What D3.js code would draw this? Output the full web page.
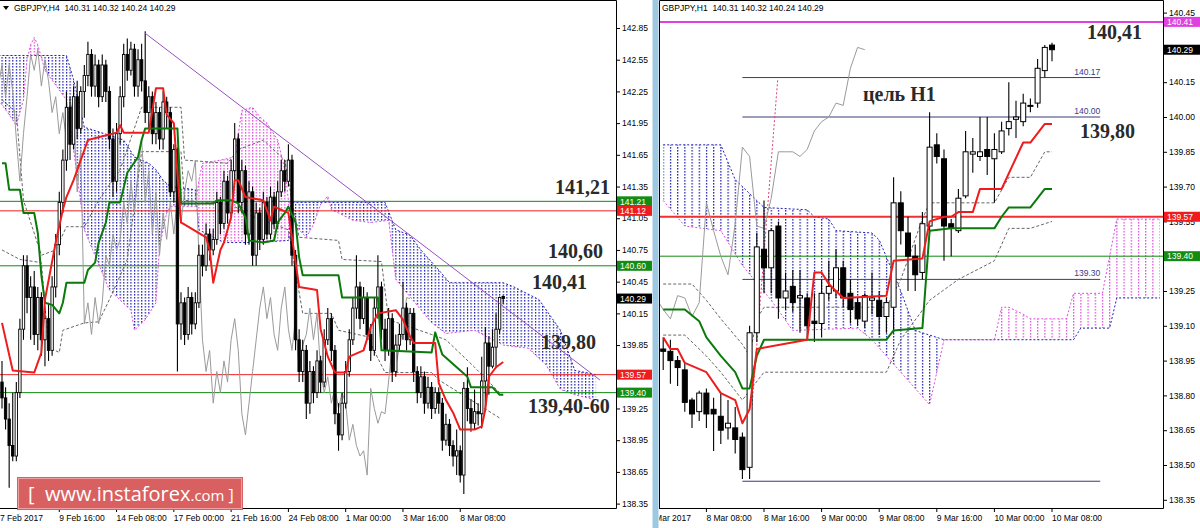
<!DOCTYPE html>
<html><head><meta charset="utf-8">
<script src="https://cdnjs.cloudflare.com/ajax/libs/d3/7.8.5/d3.min.js"></script>
<style>body{margin:0;background:#fff;}svg{display:block;}</style>
</head><body>
<svg id="c" width="1200" height="528"></svg>
<script>
// ================= DATA : LEFT PANEL (GBPJPY H4) =================
const leftTitle = "GBPJPY,H4  140.31 140.32 140.24 140.29";
// [open, high, low, close] per H4 bar (bar 0 = 7 Feb 2017)
const leftOHLC = [
[139.50,139.70,139.25,139.35],[139.35,139.45,139.05,139.15],[139.15,139.30,138.50,138.90],[138.90,139.40,138.75,138.80],
[138.80,139.50,138.75,139.40],[139.40,140.10,139.35,140.00],[140.00,140.70,139.90,140.60],[140.60,140.70,140.15,140.30],
[140.30,140.50,139.90,140.40],[140.40,140.55,139.85,139.95],[139.95,140.40,139.80,140.30],[140.30,140.35,139.75,139.90],
[139.90,140.20,139.65,140.10],[140.10,140.25,139.70,139.80],[139.80,140.50,139.75,140.40],[140.40,140.90,140.30,140.80],
[140.80,141.30,140.70,141.20],[141.20,141.70,141.10,141.60],[141.60,142.25,141.50,142.10],[142.10,142.20,141.60,141.75],
[141.75,142.30,141.70,142.20],[142.20,142.35,141.80,141.90],[141.90,142.30,141.85,142.25],[142.25,142.50,142.00,142.40],
[142.40,142.72,142.30,142.60],[142.60,142.65,142.20,142.30],[142.30,142.60,142.20,142.50],[142.50,142.55,142.10,142.20],
[142.20,142.60,142.15,142.50],[142.50,142.55,142.15,142.25],[142.25,142.30,141.70,141.80],[141.80,141.90,141.25,141.40],
[141.40,141.95,141.30,141.85],[141.85,142.30,141.75,142.20],[142.20,142.70,142.10,142.60],[142.60,142.75,142.35,142.45],
[142.45,142.72,142.40,142.65],[142.65,142.70,142.20,142.30],[142.30,142.65,142.20,142.55],[142.55,142.70,142.25,142.35],
[142.35,142.82,141.95,142.05],[142.05,142.30,141.90,142.20],[142.20,142.25,141.75,141.85],[141.85,142.15,141.75,142.05],
[142.05,142.10,141.70,141.80],[141.80,142.25,141.70,142.15],[142.15,142.20,141.90,142.05],[142.05,142.10,141.25,141.30],
[141.30,141.75,141.20,141.70],[141.70,141.72,139.60,140.05],[140.05,140.35,139.90,140.25],[140.25,140.30,139.85,139.95],
[139.95,140.40,139.90,140.30],[140.30,140.35,139.95,140.05],[140.05,140.35,140.00,140.25],[140.25,140.80,140.20,140.70],
[140.70,140.80,140.50,140.60],[140.60,141.00,140.55,140.90],[140.90,140.95,140.65,140.75],[140.75,140.95,140.70,140.85],
[140.85,141.30,140.80,141.20],[141.20,141.25,140.90,141.00],[141.00,141.50,140.95,141.40],[141.40,141.45,141.00,141.10],
[141.10,141.60,141.05,141.50],[141.50,141.95,141.40,141.80],[141.80,141.85,141.10,141.20],[141.20,141.60,141.10,141.50],
[141.50,141.55,140.80,140.90],[140.90,141.40,140.80,141.30],[141.30,141.35,140.60,140.70],[140.70,141.20,140.60,141.10],
[141.10,141.15,140.75,140.85],[140.85,141.30,140.80,141.20],[141.20,141.25,140.85,140.90],[140.90,141.35,140.85,141.25],
[141.25,141.30,140.95,141.00],[141.00,141.40,140.95,141.30],[141.30,141.60,141.25,141.50],[141.50,141.60,141.30,141.40],
[141.40,141.75,141.35,141.60],[141.60,141.65,140.60,140.70],[140.70,140.75,139.80,139.90],[139.90,140.00,139.50,139.60],
[139.60,139.90,139.50,139.80],[139.80,139.85,139.15,139.30],[139.30,139.70,139.20,139.60],[139.60,139.65,139.30,139.40],
[139.40,139.80,139.35,139.70],[139.70,139.75,139.40,139.50],[139.50,140.00,139.45,139.90],[139.90,140.20,139.85,140.10],
[140.10,140.15,139.70,139.80],[139.80,139.85,139.10,139.20],[139.20,139.30,138.85,139.00],[139.00,139.40,138.95,139.30],
[139.30,139.70,139.25,139.60],[139.60,140.00,139.55,139.90],[139.90,140.30,139.85,140.20],[140.20,140.70,140.10,140.40],
[140.40,140.45,140.00,140.10],[140.10,140.40,140.05,140.30],[140.30,140.35,139.90,139.95],[139.95,140.05,139.70,139.80],
[139.80,140.30,139.75,140.20],[140.20,140.70,140.10,140.40],[140.40,140.45,139.90,140.00],[140.00,140.10,139.70,139.80],
[139.80,140.20,139.75,140.10],[140.10,140.15,139.50,139.60],[139.60,139.95,139.55,139.85],[139.85,140.05,139.80,139.95],
[139.95,140.45,139.90,140.20],[140.20,140.25,139.80,139.90],[139.90,140.20,139.85,140.15],[140.15,140.20,139.50,139.60],
[139.60,139.65,139.30,139.40],[139.40,139.65,139.35,139.55],[139.55,139.60,139.20,139.30],[139.30,139.55,139.25,139.45],
[139.45,139.50,139.15,139.25],[139.25,139.45,139.20,139.40],[139.40,139.45,139.20,139.30],[139.30,139.35,138.85,138.95],
[138.95,139.20,138.90,139.10],[139.10,139.15,138.80,138.90],[138.90,138.95,138.70,138.80],[138.80,139.05,138.62,138.85],
[138.85,138.90,138.55,138.62],[138.62,139.50,138.44,139.44],[139.44,139.64,139.13,139.25],[139.25,139.34,139.03,139.11],
[139.11,139.43,139.05,139.22],[139.22,139.30,139.09,139.20],[139.20,139.74,139.06,139.51],[139.51,140.02,139.25,139.87],
[139.87,139.93,139.38,139.65],[139.65,140.00,139.63,139.83],[139.83,140.15,139.63,140.00],[140.00,140.31,139.96,140.30],
[140.31,140.32,140.24,140.29]
];
// Ichimoku lines: [bar, price]
const leftTenkan = [[0,140.06],[3,139.61],[9,139.59],[11,139.78],[12,140.28],[15,140.82],[17,141.13],[18,141.25],[20,141.41],[22,141.60],[24,141.79],[32,141.86],[33,141.93],[34,141.86],[41,141.86],[43,142.28],[45,142.28],[46,142.03],[48,141.95],[50,141.01],[57,140.87],[58,140.75],[59,140.44],[61,140.75],[62,140.82],[64,141.06],[65,141.41],[66,141.41],[68,141.25],[73,141.22],[75,141.03],[76,141.16],[80,141.10],[83,140.40],[88,140.37],[89,140.00],[91,139.74],[93,139.59],[96,139.59],[97,139.74],[101,139.80],[103,140.02],[105,140.15],[110,140.18],[112,140.09],[114,139.93],[115,139.87],[121,139.87],[122,139.49],[124,139.33],[126,139.21],[128,139.05],[132,139.05],[134,139.08],[135,139.24],[136,139.55],[138,139.64],[140,139.69]];
const leftKijun = [[0,141.57],[1,141.57],[2,141.32],[5,141.32],[6,141.10],[9,141.10],[10,140.91],[11,140.51],[12,140.25],[14,140.23],[16,140.15],[17,140.25],[18,140.44],[23,140.44],[24,140.56],[26,140.63],[27,140.82],[29,141.01],[30,141.20],[33,141.20],[35,141.48],[38,141.63],[39,141.79],[40,141.90],[49,141.90],[50,141.19],[59,141.19],[60,141.22],[64,141.22],[66,141.19],[68,141.06],[69,140.84],[73,140.82],[76,140.84],[77,141.01],[79,141.10],[80,141.16],[82,141.01],[83,140.68],[84,140.51],[94,140.51],[95,140.30],[105,140.30],[106,139.80],[120,139.78],[121,139.97],[123,139.76],[130,139.55],[131,139.45],[137,139.45],[139,139.38],[140,139.38]];
const leftSpanA = [[-1,142.17],[2,142.03],[4,141.93],[6,142.17],[7,142.55],[8,142.69],[9,142.76],[10,142.69],[12,142.45],[15,142.31],[18,142.17],[20,141.70],[23,140.94],[30,140.37],[36,140.18],[37,139.99],[40,140.09],[43,140.25],[44,140.78],[46,141.10],[47,141.16],[54,141.16],[55,141.41],[56,141.57],[61,141.60],[65,141.63],[67,142.07],[70,142.10],[72,142.01],[74,141.95],[77,141.79],[79,141.51],[80,141.22],[83,140.94],[85,140.87],[87,140.99],[89,141.18],[91,141.26],[92,141.13],[94,141.10],[98,141.03],[103,141.01],[108,141.03],[110,140.47],[120,140.06],[124,139.96],[132,139.99],[140,139.85],[147,139.82],[152,139.66],[156,139.43],[160,139.38],[166,139.33]];
const leftSpanB = [[-1,142.59],[18,142.59],[20,142.36],[23,141.91],[25,141.89],[34,141.79],[37,141.63],[41,141.57],[43,141.51],[45,141.41],[47,141.35],[54,141.32],[55,140.94],[62,140.82],[71,140.82],[80,140.84],[81,141.20],[107,141.20],[110,140.94],[114,140.89],[117,140.75],[122,140.56],[125,140.44],[140,140.44],[143,140.40],[150,140.28],[156,139.99],[160,139.61],[166,139.57]];
const leftDashed1 = [[0,142.17],[4,142.05],[6,141.22],[11,140.70],[15,140.75],[18,140.97],[23,140.97],[27,141.22],[33,141.51],[39,142.10],[50,142.10],[51,141.60],[63,141.57],[66,141.70],[73,141.79],[79,141.60],[81,141.22],[83,140.87],[94,140.84],[95,140.66],[106,140.64],[108,140.09],[120,139.95],[124,139.90],[132,139.64],[139,139.40],[140,139.38]];
const leftDashed2 = [[0,140.75],[5,140.66],[11,140.63],[13,139.83],[16,139.78],[17,139.99],[23,140.06],[27,140.07],[30,140.28],[35,140.66],[39,141.68],[50,141.68],[51,141.22],[64,141.18],[69,141.08],[80,140.94],[84,140.15],[92,140.15],[94,139.99],[102,139.93],[107,139.59],[120,139.59],[122,139.52],[131,139.33],[139,139.16]];
const leftTrend = [[40,142.80],[167,139.52]];
const leftGreenLevels = [141.21, 140.60, 139.40];
const leftRedLevels = [141.12, 139.57];
const leftLastPrice = 140.29;
// price ticks (139.55 is hidden under the 139.57 marker in the original)
const leftPriceTicks = [142.85,142.55,142.25,141.95,141.65,141.35,141.05,140.75,140.45,140.15,139.85,139.25,138.95,138.65,138.35];
const leftTimeBars = [16,32,48,64,80,96,112,128];
const leftTimeLabels = ["9 Feb 16:00","14 Feb 08:00","17 Feb 00:00","21 Feb 16:00","24 Feb 08:00","1 Mar 00:00","3 Mar 16:00","8 Mar 08:00"];
const leftFirstLabel = "7 Feb 2017";
const leftNotes = ["141,21","140,60","140,41","139,80","139,40-60"];

// ================= DATA : RIGHT PANEL (GBPJPY H1) =================
const rightTitle = "GBPJPY,H1  140.31 140.32 140.24 140.29";
// [open, high, low, close] per H1 bar (bar 0 = 8 Mar 02:00)
const rightOHLC = [
[139.00,139.05,138.91,138.99],[138.99,139.04,138.85,138.95],[138.95,138.97,138.84,138.92],[138.91,138.94,138.73,138.77],
[138.78,138.79,138.66,138.72],[138.73,138.82,138.69,138.81],[138.81,138.83,138.66,138.72],[138.74,138.79,138.56,138.72],
[138.71,138.81,138.59,138.65],[138.66,138.78,138.61,138.68],[138.66,138.75,138.55,138.61],[138.62,138.64,138.44,138.48],
[138.49,139.10,138.44,139.07],[139.07,139.50,139.03,139.44],[139.43,139.64,139.24,139.35],[139.35,139.52,139.24,139.51],
[139.53,139.55,139.13,139.22],[139.22,139.33,139.17,139.25],[139.27,139.34,139.16,139.20],[139.22,139.34,139.07,139.23],
[139.22,139.24,139.04,139.10],[139.12,139.24,139.03,139.11],[139.11,139.30,139.05,139.24],[139.24,139.38,139.21,139.27],
[139.25,139.43,139.22,139.35],[139.35,139.38,139.18,139.22],[139.24,139.30,139.11,139.17],[139.20,139.22,139.10,139.13],
[139.12,139.24,139.09,139.23],[139.21,139.33,139.15,139.22],[139.21,139.25,139.06,139.14],[139.14,139.22,139.07,139.20],
[139.18,139.74,139.07,139.63],[139.63,139.68,139.45,139.51],[139.50,139.57,139.25,139.40],[139.40,139.45,139.25,139.32],
[139.33,139.59,139.30,139.54],[139.53,140.02,139.50,139.87],[139.88,139.93,139.80,139.83],[139.82,139.86,139.38,139.53],
[139.54,139.56,139.40,139.52],[139.51,139.69,139.50,139.65],[139.66,139.94,139.65,139.85],[139.84,139.91,139.76,139.85],
[139.83,140.00,139.81,139.85],[139.86,140.00,139.75,139.83],[139.82,139.93,139.63,139.86],[139.85,139.98,139.84,139.94],
[139.95,140.15,139.92,139.98],[139.99,140.07,139.91,140.00],[139.98,140.10,139.96,140.06],[140.05,140.08,140.02,140.05],
[140.06,140.25,140.04,140.21],[140.20,140.31,140.17,140.30],[140.31,140.32,140.24,140.29]
];
const rightTenkan = [[0,139.05],[1,139.00],[2,139.00],[3,138.94],[6,138.90],[8,138.81],[10,138.78],[11,138.68],[12,138.74],[13,139.00],[20,139.04],[21,139.33],[22,139.33],[23,139.28],[25,139.22],[31,139.23],[32,139.38],[36,139.39],[37,139.55],[39,139.57],[40,139.57],[41,139.59],[43,139.59],[44,139.69],[47,139.69],[50,139.89],[51,139.89],[53,139.97],[54,139.97]];
const rightKijun = [[0,139.17],[3,139.17],[5,139.12],[6,139.05],[8,138.97],[10,138.90],[11,138.83],[12,138.83],[13,138.97],[14,139.04],[31,139.04],[32,139.08],[36,139.09],[37,139.51],[40,139.52],[46,139.52],[47,139.57],[48,139.61],[51,139.61],[53,139.69],[54,139.69]];
const rightSpanA = [[0,139.64],[3,139.53],[8,139.51],[11,139.36],[15,139.21],[18,139.08],[27,139.09],[29,139.04],[31,138.97],[37,138.76],[39,139.04],[46,139.04],[47,139.18],[48,139.18],[50,139.15],[51,139.13],[56,139.13],[57,139.24],[61,139.24],[62,139.40],[63,139.56],[69,139.56]];
const rightSpanB = [[0,139.88],[8,139.88],[10,139.73],[13,139.64],[14,139.61],[20,139.60],[21,139.57],[23,139.56],[24,139.51],[29,139.50],[30,139.47],[33,139.25],[35,139.08],[39,139.04],[57,139.04],[58,139.09],[62,139.09],[63,139.22],[69,139.22]];
const rightDashed1 = [[0,139.28],[4,139.28],[6,139.21],[8,139.13],[11,139.02],[12,138.97],[13,139.13],[14,139.18],[31,139.18],[33,139.30],[36,139.56],[37,139.63],[46,139.63],[48,139.74],[51,139.74],[53,139.85],[54,139.85]];
const rightDashed2 = [[0,139.06],[3,139.06],[6,138.97],[8,138.90],[10,138.82],[11,138.78],[14,138.90],[31,138.90],[33,139.04],[37,139.21],[41,139.30],[46,139.38],[48,139.52],[51,139.52],[54,139.55]];
const rightRedDotLine = [[12.3,138.74],[15.9,140.16]];
const rightNavyLevels = [140.17, 140.00, 139.30, 138.43];
const rightNavyLabels = ["140.17","140.00","139.30",""];
const rightNavySpan = [11, 60.7];
const rightMagentaLevel = 140.41;
const rightRedLevel = 139.57;
const rightGreenLevel = 139.40;
const rightLastPrice = 140.29;
// price ticks (140.30 and 139.40 are hidden under markers in the original)
const rightPriceTicks = [140.45,140.15,140.00,139.85,139.70,139.55,139.25,139.10,138.95,138.80,138.65,138.50,138.35];
const rightTimeBars = [6,14,22,30,38,46,54];
const rightTimeLabels = ["8 Mar 08:00","8 Mar 16:00","9 Mar 00:00","9 Mar 08:00","9 Mar 16:00","10 Mar 00:00","10 Mar 08:00"];
const rightFirstLabel = "8 Mar 2017";
const rightNotes = ["140,41","цель H1","139,80"];

// ================= DRAWING =================
const FONT = "'Liberation Sans', Arial, sans-serif";
const SERIF = "'Liberation Serif', 'Times New Roman', serif";
const BLUE = "#1e1eb4", PINK = "#e04ce0";
const svg = d3.select('#c');
const defs = svg.append('defs');

const xL = d3.scaleLinear().domain([0,140]).range([2,503.2]);
const yL = d3.scaleLinear().domain([138.35,142.85]).range([503.6,28]);
const xR = d3.scaleLinear().domain([0,54]).range([663.2,1052]);
const yR = d3.scaleLinear().domain([138.35,140.45]).range([499.8,12.6]);

const PL = {x0:0, x1:616, y0:0, y1:508};
const PR = {x0:659, x1:1163, y0:0, y1:508};

function clipRect(id, p){
  defs.append('clipPath').attr('id',id).append('rect')
    .attr('x',p.x0).attr('y',p.y0).attr('width',p.x1-p.x0).attr('height',p.y1-p.y0);
}
clipRect('clipL', PL); clipRect('clipR', PR);

function hatch(id, color, x0, w){
  const p = defs.append('pattern').attr('id',id).attr('patternUnits','userSpaceOnUse')
    .attr('x',x0-0.5).attr('y',0).attr('width',w).attr('height',3);
  p.append('rect').attr('x',0).attr('y',0).attr('width',1.2).attr('height',1.6).attr('fill',color);
}
hatch('hbL', BLUE, xL(0), xL(1)-xL(0));
hatch('hpL', PINK, xL(0), xL(1)-xL(0));
hatch('hbR', BLUE, xR(0), xR(1)-xR(0));
hatch('hpR', PINK, xR(0), xR(1)-xR(0));

function drawCloud(g, x, y, A, B, id, hb, hp, P){
  const ln = d3.line().x(d=>x(d[0])).y(d=>y(d[1]));
  const ends = s => [x(s[0][0]), x(s[s.length-1][0])];
  const [a0,a1] = ends(A), [b0,b1] = ends(B);
  const aboveA = ln(A)+`L${a1},${P.y0-5}L${a0},${P.y0-5}Z`;
  const belowA = ln(A)+`L${a1},${P.y1+5}L${a0},${P.y1+5}Z`;
  const aboveB = ln(B)+`L${b1},${P.y0-5}L${b0},${P.y0-5}Z`;
  const belowB = ln(B)+`L${b1},${P.y1+5}L${b0},${P.y1+5}Z`;
  defs.append('clipPath').attr('id',id+'aA').append('path').attr('d',aboveA);
  defs.append('clipPath').attr('id',id+'aB').append('path').attr('d',aboveB);
  g.append('path').attr('d',belowB).attr('fill',`url(#${hb})`).attr('clip-path',`url(#${id}aA)`);
  g.append('path').attr('d',belowA).attr('fill',`url(#${hp})`).attr('clip-path',`url(#${id}aB)`);
  g.append('path').attr('d',ln(B)).attr('fill','none').attr('stroke',BLUE).attr('stroke-width',1).attr('stroke-dasharray','2,2');
  g.append('path').attr('d',ln(A)).attr('fill','none').attr('stroke',PINK).attr('stroke-width',1).attr('stroke-dasharray','2,2');
}

function drawLine(g, x, y, data, color, w, dash){
  const p = g.append('path').datum(data)
    .attr('d', d3.line().x(d=>x(d[0])).y(d=>y(d[1])))
    .attr('fill','none').attr('stroke',color).attr('stroke-width',w).attr('stroke-linejoin','round');
  if (dash) p.attr('stroke-dasharray',dash);
  return p;
}

function drawCandles(g, x, y, data, bw, sw){
  g.append('g').selectAll('line').data(data).join('line')
    .attr('x1',(d,i)=>x(i)).attr('x2',(d,i)=>x(i))
    .attr('y1',d=>y(d[1])).attr('y2',d=>y(d[2]))
    .attr('stroke','#000').attr('stroke-width',1.1);
  g.append('g').selectAll('rect').data(data).join('rect')
    .attr('x',(d,i)=>x(i)-bw/2)
    .attr('y',d=>y(Math.max(d[0],d[3])))
    .attr('width',bw)
    .attr('height',d=>Math.max(1,Math.abs(y(d[0])-y(d[3]))))
    .attr('fill',d=>d[3]>=d[0]?'#fff':'#000')
    .attr('stroke','#000').attr('stroke-width',sw);
}

function hLevel(g, y, p, P, color, w){
  g.append('line').attr('x1',P.x0).attr('x2',P.x1).attr('y1',y(p)).attr('y2',y(p))
    .attr('stroke',color).attr('stroke-width',w);
}

function priceBox(x0, w, y, p, color){
  const yy = y(p);
  svg.append('rect').attr('x',x0).attr('y',yy-5).attr('width',w).attr('height',10).attr('fill',color);
  svg.append('text').attr('x',x0+3).attr('y',yy+3.2).attr('fill','#fff')
    .attr('font-family',FONT).attr('font-size','8.5px').text(p.toFixed(2));
}

function priceAxis(xpos, y, ticks){
  const ax = d3.axisRight(y).tickValues(ticks).tickFormat(d3.format('.2f')).tickSize(3).tickPadding(2);
  const ga = svg.append('g').attr('transform',`translate(${xpos},0)`).call(ax);
  ga.select('.domain').remove();
  ga.selectAll('text').attr('font-family',FONT).attr('font-size','8.5px').attr('fill','#000');
  ga.selectAll('line').attr('stroke','#000');
}

function timeAxis(x, bars, labels, P){
  const g = svg.append('g');
  bars.forEach((b,i)=>{
    const xx = x(b);
    g.append('line').attr('x1',xx).attr('x2',xx).attr('y1',P.y1).attr('y2',P.y1+4).attr('stroke','#000');
    g.append('text').attr('x',xx).attr('y',P.y1+13).attr('font-family',FONT).attr('font-size','8.5px').text(labels[i]);
  });
  return g;
}

// ---------- LEFT PANEL ----------
const gL = svg.append('g').attr('clip-path','url(#clipL)');
drawCloud(gL, xL, yL, leftSpanA, leftSpanB, 'cL', 'hbL', 'hpL', PL);
leftGreenLevels.forEach(p=>hLevel(gL, yL, p, PL, '#108a10', 1));
leftRedLevels.forEach(p=>hLevel(gL, yL, p, PL, '#ee2020', 1));
drawLine(gL, xL, yL, leftDashed1, '#666', 1, '3,2');
drawLine(gL, xL, yL, leftDashed2, '#666', 1, '3,2');
drawLine(gL, xL, yL, leftOHLC.map((d,i)=>[i-26,d[3]]), '#9a9a9a', 1);
drawCandles(gL, xL, yL, leftOHLC, 2.4, 0.9);
drawLine(gL, xL, yL, leftKijun, '#0a7a0a', 2);
drawLine(gL, xL, yL, leftTenkan, '#ee1c1c', 2);
drawLine(gL, xL, yL, leftTrend, '#9b4fc2', 1);

// ---------- RIGHT PANEL ----------
const gR = svg.append('g').attr('clip-path','url(#clipR)');
drawCloud(gR, xR, yR, rightSpanA, rightSpanB, 'cR', 'hbR', 'hpR', PR);
hLevel(gR, yR, rightRedLevel, PR, '#ee3030', 2);
hLevel(gR, yR, rightGreenLevel, PR, '#108a10', 1);
hLevel(gR, yR, rightMagentaLevel, PR, '#e040e0', 2);
rightNavyLevels.forEach((p,i)=>{
  gR.append('line').attr('x1',xR(rightNavySpan[0])).attr('x2',xR(rightNavySpan[1]))
    .attr('y1',yR(p)).attr('y2',yR(p)).attr('stroke','#3a3a7a').attr('stroke-width',1);
  if (rightNavyLabels[i]) gR.append('text').attr('x',xR(rightNavySpan[1])).attr('y',yR(p)-3)
    .attr('text-anchor','end').attr('font-family',FONT).attr('font-size','8.5px').attr('fill','#3a3a8a')
    .text(rightNavyLabels[i]);
});
drawLine(gR, xR, yR, rightDashed1, '#666', 1, '3,2');
drawLine(gR, xR, yR, rightDashed2, '#666', 1, '3,2');
drawLine(gR, xR, yR, rightRedDotLine, '#e0407a', 1, '2,2');
drawLine(gR, xR, yR, rightOHLC.map((d,i)=>[i-26,d[3]]), '#9a9a9a', 1);
drawCandles(gR, xR, yR, rightOHLC, 5, 1);
drawLine(gR, xR, yR, rightKijun, '#0a7a0a', 2);
drawLine(gR, xR, yR, rightTenkan, '#ee1c1c', 2);

// ---------- FRAMES ----------
svg.append('rect').attr('x',652.5).attr('y',0).attr('width',6).attr('height',528).attr('fill','#9ec8e2');
svg.append('path').attr('d',`M${PL.x0},0.5H${PL.x1+0.5}V${PL.y1+0.5}H${PL.x0}`).attr('fill','none').attr('stroke','#000');
svg.append('path').attr('d',`M${PR.x0+0.5},${PR.y1+0.5}V0.5H${PR.x1+0.5}V${PR.y1+0.5}H${PR.x0}`).attr('fill','none').attr('stroke','#000');

// ---------- AXES ----------
priceAxis(PL.x1+1, yL, leftPriceTicks);
priceAxis(PR.x1+1, yR, rightPriceTicks);
timeAxis(xL, leftTimeBars, leftTimeLabels, PL);
svg.append('text').attr('x',0).attr('y',PL.y1+13).attr('font-family',FONT).attr('font-size','8.5px').text(leftFirstLabel);
timeAxis(xR, rightTimeBars, rightTimeLabels, PR);
defs.append('clipPath').attr('id','clipRA').append('rect').attr('x',PR.x0).attr('y',PR.y1).attr('width',60).attr('height',20);
svg.append('text').attr('x',691).attr('y',PR.y1+13).attr('text-anchor','end').attr('clip-path','url(#clipRA)')
  .attr('font-family',FONT).attr('font-size','8.5px').text(rightFirstLabel);

// price boxes
leftGreenLevels.forEach(p=>priceBox(PL.x1+1, 35, yL, p, '#128c12'));
leftRedLevels.forEach(p=>priceBox(PL.x1+1, 35, yL, p, '#ee1c1c'));
priceBox(PL.x1+1, 35, yL, leftLastPrice, '#000');
priceBox(PR.x1+1, 36, yR, rightMagentaLevel, '#e040e0');
priceBox(PR.x1+1, 36, yR, rightLastPrice, '#000');
priceBox(PR.x1+1, 36, yR, rightRedLevel, '#ee1c1c');
priceBox(PR.x1+1, 36, yR, rightGreenLevel, '#128c12');

// ---------- TITLES ----------
svg.append('path').attr('d','M3,6H9L6,10Z').attr('fill','#000');
svg.append('text').attr('x',14).attr('y',11).attr('font-family',FONT).attr('font-size','8.5px').attr('xml:space','preserve').text(leftTitle);
svg.append('text').attr('x',662).attr('y',11).attr('font-family',FONT).attr('font-size','8.5px').attr('xml:space','preserve').text(rightTitle);

// ---------- ANNOTATIONS ----------
const notePosL = [[555,194],[548,258],[532,289],[541,349],[528,413]];
leftNotes.forEach((t,i)=>svg.append('text').attr('x',notePosL[i][0]).attr('y',notePosL[i][1])
  .attr('font-family',SERIF).attr('font-weight','bold').attr('font-size','20px').attr('fill','#2a2a2a').text(t));
const notePosR = [[1087,39],[863,101],[1080,138]];
rightNotes.forEach((t,i)=>svg.append('text').attr('x',notePosR[i][0]).attr('y',notePosR[i][1])
  .attr('font-family',SERIF).attr('font-weight','bold').attr('font-size','20px').attr('fill','#2a2a2a').text(t));

// ---------- WATERMARK ----------
const wm = svg.append('g');
wm.append('rect').attr('x',17).attr('y',477).attr('width',226).attr('height',33).attr('fill','#d65353').attr('opacity',0.92);
wm.append('rect').attr('x',18.5).attr('y',478.5).attr('width',223).attr('height',30).attr('fill','none').attr('stroke','#f0a0a0').attr('stroke-width',1);
const wt = wm.append('text').attr('y',501).attr('fill','#fff').attr('font-family',"'Open Sans', 'Noto Sans', sans-serif");
wt.append('tspan').attr('x',28).attr('font-size','20px').text('[');
wt.append('tspan').attr('x',45).attr('font-size','20px').text('www.instaforex');
wt.append('tspan').attr('font-size','15px').text('.com');
wt.append('tspan').attr('dx',4).attr('font-size','16px').text(']');
</script>
</body></html>
